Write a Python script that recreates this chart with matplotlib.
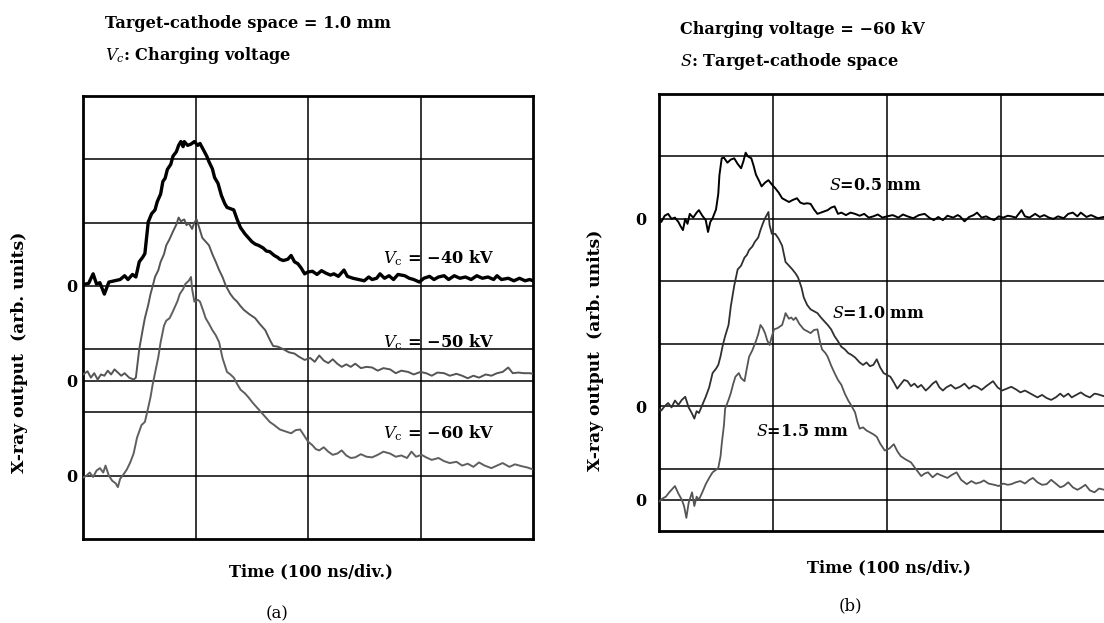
import numpy as np
import matplotlib
matplotlib.use("Agg")
import matplotlib.pyplot as plt

# ---- data (time in divisions, output in grid divisions) ----
# panel (a): target-cathode space 1.0 mm
vc40 = [(0.00, 4.02), (0.05, 4.04), (0.09, 4.19), (0.12, 4.03), (0.15, 4.05), (0.19, 3.87), (0.23, 4.06),
        (0.28, 4.08), (0.33, 4.10), (0.37, 4.16), (0.40, 4.10), (0.44, 4.18), (0.47, 4.14), (0.50, 4.38),
        (0.53, 4.45), (0.55, 4.51), (0.58, 5.01), (0.61, 5.14), (0.64, 5.20), (0.66, 5.33), (0.69, 5.45),
        (0.71, 5.65), (0.73, 5.70), (0.75, 5.84), (0.78, 5.92), (0.80, 6.05), (0.83, 6.12), (0.85, 6.22),
        (0.87, 6.28), (0.89, 6.20), (0.90, 6.28), (0.93, 6.22), (0.96, 6.24), (0.99, 6.28), (1.02, 6.22),
        (1.04, 6.25), (1.07, 6.15), (1.10, 6.05), (1.12, 5.96), (1.15, 5.85), (1.17, 5.71), (1.20, 5.62),
        (1.23, 5.43), (1.26, 5.30), (1.28, 5.24), (1.31, 5.22), (1.34, 5.20), (1.37, 5.05), (1.40, 4.92),
        (1.44, 4.82), (1.47, 4.76), (1.50, 4.70), (1.53, 4.66), (1.56, 4.64), (1.60, 4.60), (1.63, 4.55),
        (1.66, 4.54), (1.70, 4.48), (1.73, 4.45), (1.75, 4.42), (1.78, 4.40), (1.82, 4.42), (1.85, 4.48),
        (1.88, 4.38), (1.91, 4.35), (1.94, 4.28), (1.97, 4.19), (2.00, 4.22), (2.04, 4.23), (2.08, 4.18),
        (2.12, 4.24), (2.16, 4.20), (2.20, 4.17), (2.23, 4.19), (2.27, 4.15), (2.32, 4.25), (2.35, 4.15),
        (2.40, 4.12), (2.45, 4.10), (2.50, 4.08), (2.54, 4.14), (2.57, 4.10), (2.61, 4.12), (2.64, 4.19),
        (2.68, 4.12), (2.72, 4.16), (2.76, 4.10), (2.80, 4.18), (2.86, 4.16), (2.90, 4.12), (2.94, 4.10),
        (2.99, 4.06), (3.03, 4.12), (3.08, 4.15), (3.12, 4.10), (3.16, 4.14), (3.21, 4.16), (3.25, 4.10),
        (3.30, 4.16), (3.35, 4.12), (3.40, 4.14), (3.45, 4.10), (3.50, 4.16), (3.55, 4.12), (3.60, 4.14),
        (3.65, 4.10), (3.68, 4.16), (3.72, 4.10), (3.78, 4.12), (3.83, 4.08), (3.88, 4.12), (3.93, 4.08),
        (3.97, 4.10), (4.00, 4.08)]

vc50 = [(0.00, 2.60), (0.04, 2.65), (0.07, 2.55), (0.10, 2.62), (0.13, 2.52), (0.16, 2.60), (0.19, 2.58),
        (0.22, 2.66), (0.25, 2.60), (0.28, 2.68), (0.31, 2.63), (0.34, 2.58), (0.37, 2.62), (0.41, 2.55),
        (0.45, 2.52), (0.47, 2.55), (0.50, 3.00), (0.53, 3.30), (0.55, 3.49), (0.58, 3.70), (0.60, 3.87),
        (0.62, 4.00), (0.64, 4.14), (0.67, 4.25), (0.69, 4.38), (0.72, 4.50), (0.74, 4.64), (0.77, 4.74),
        (0.80, 4.86), (0.83, 4.97), (0.85, 5.08), (0.87, 5.02), (0.90, 5.05), (0.92, 4.96), (0.94, 4.99),
        (0.97, 4.90), (0.99, 5.00), (1.01, 5.05), (1.04, 4.88), (1.06, 4.76), (1.09, 4.70), (1.12, 4.64),
        (1.15, 4.50), (1.18, 4.38), (1.21, 4.25), (1.24, 4.14), (1.27, 4.00), (1.31, 3.87), (1.34, 3.80),
        (1.37, 3.75), (1.40, 3.68), (1.43, 3.62), (1.48, 3.55), (1.53, 3.49), (1.57, 3.40), (1.62, 3.30),
        (1.66, 3.15), (1.69, 3.05), (1.73, 3.04), (1.78, 3.00), (1.83, 2.95), (1.88, 2.93), (1.92, 2.88),
        (1.97, 2.83), (2.02, 2.86), (2.06, 2.80), (2.10, 2.90), (2.14, 2.82), (2.18, 2.78), (2.22, 2.84),
        (2.26, 2.77), (2.30, 2.72), (2.34, 2.76), (2.38, 2.72), (2.42, 2.77), (2.47, 2.70), (2.52, 2.72),
        (2.57, 2.71), (2.62, 2.66), (2.67, 2.70), (2.73, 2.68), (2.78, 2.62), (2.83, 2.66), (2.89, 2.64),
        (2.94, 2.60), (3.00, 2.64), (3.05, 2.62), (3.10, 2.58), (3.15, 2.63), (3.21, 2.62), (3.26, 2.58),
        (3.32, 2.61), (3.37, 2.58), (3.42, 2.54), (3.47, 2.58), (3.52, 2.55), (3.58, 2.60), (3.63, 2.58),
        (3.68, 2.62), (3.73, 2.64), (3.78, 2.71), (3.82, 2.62), (3.87, 2.63), (3.92, 2.62), (3.97, 2.62),
        (4.00, 2.61)]

vc60 = [(0.00, 0.97), (0.03, 1.00), (0.06, 1.05), (0.09, 0.98), (0.12, 1.08), (0.15, 1.12), (0.18, 1.05),
        (0.20, 1.16), (0.23, 1.00), (0.26, 0.92), (0.29, 0.88), (0.31, 0.82), (0.33, 0.95), (0.36, 1.02),
        (0.39, 1.10), (0.42, 1.21), (0.45, 1.35), (0.48, 1.60), (0.50, 1.70), (0.52, 1.80), (0.55, 1.85),
        (0.57, 2.00), (0.60, 2.24), (0.62, 2.45), (0.64, 2.62), (0.67, 2.88), (0.69, 3.11), (0.72, 3.37),
        (0.74, 3.45), (0.77, 3.49), (0.80, 3.60), (0.82, 3.68), (0.84, 3.76), (0.86, 3.87), (0.89, 3.95),
        (0.91, 4.03), (0.94, 4.08), (0.96, 4.14), (0.97, 3.95), (0.99, 3.75), (1.02, 3.78), (1.04, 3.75),
        (1.07, 3.60), (1.09, 3.49), (1.12, 3.40), (1.15, 3.30), (1.18, 3.22), (1.21, 3.11), (1.24, 2.86),
        (1.26, 2.75), (1.28, 2.64), (1.31, 2.60), (1.34, 2.55), (1.37, 2.45), (1.40, 2.36), (1.44, 2.30),
        (1.47, 2.24), (1.51, 2.15), (1.56, 2.05), (1.61, 1.95), (1.66, 1.85), (1.70, 1.80), (1.75, 1.73),
        (1.80, 1.70), (1.85, 1.67), (1.89, 1.72), (1.93, 1.73), (1.96, 1.65), (2.00, 1.54), (2.04, 1.48),
        (2.07, 1.42), (2.10, 1.40), (2.14, 1.45), (2.18, 1.38), (2.22, 1.33), (2.26, 1.35), (2.30, 1.40),
        (2.34, 1.32), (2.38, 1.28), (2.42, 1.29), (2.47, 1.34), (2.52, 1.30), (2.57, 1.29), (2.62, 1.33),
        (2.67, 1.38), (2.73, 1.35), (2.78, 1.30), (2.83, 1.32), (2.88, 1.28), (2.92, 1.38), (2.96, 1.30),
        (3.01, 1.33), (3.05, 1.29), (3.10, 1.25), (3.16, 1.28), (3.21, 1.23), (3.26, 1.20), (3.32, 1.22),
        (3.37, 1.16), (3.42, 1.19), (3.47, 1.14), (3.52, 1.21), (3.57, 1.16), (3.63, 1.12), (3.68, 1.16),
        (3.73, 1.20), (3.79, 1.14), (3.84, 1.18), (3.90, 1.15), (3.95, 1.13), (4.00, 1.10)]

# panel (b): charging voltage -60 kV
s05 = [(0.00, 4.98), (0.02, 4.95), (0.05, 5.05), (0.08, 5.08), (0.11, 5.00), (0.14, 5.02), (0.17, 4.95),
       (0.19, 4.88), (0.21, 4.82), (0.23, 5.00), (0.25, 4.92), (0.27, 5.08), (0.30, 5.02), (0.33, 5.10),
       (0.35, 5.14), (0.38, 5.05), (0.41, 4.98), (0.43, 4.79), (0.45, 4.95), (0.47, 5.01), (0.50, 5.15),
       (0.52, 5.40), (0.53, 5.70), (0.55, 5.97), (0.57, 5.98), (0.60, 5.90), (0.63, 5.95), (0.66, 5.97),
       (0.69, 5.88), (0.72, 5.81), (0.74, 5.92), (0.76, 6.06), (0.78, 6.00), (0.81, 5.97), (0.83, 5.85),
       (0.85, 5.71), (0.88, 5.60), (0.90, 5.52), (0.93, 5.58), (0.96, 5.62), (0.99, 5.55), (1.02, 5.49),
       (1.05, 5.42), (1.08, 5.33), (1.11, 5.30), (1.14, 5.27), (1.17, 5.30), (1.21, 5.33), (1.24, 5.26),
       (1.27, 5.24), (1.30, 5.25), (1.33, 5.24), (1.36, 5.15), (1.39, 5.08), (1.42, 5.10), (1.45, 5.12),
       (1.48, 5.14), (1.51, 5.18), (1.54, 5.20), (1.57, 5.08), (1.60, 5.10), (1.64, 5.06), (1.68, 5.10),
       (1.72, 5.08), (1.76, 5.05), (1.80, 5.08), (1.84, 5.02), (1.88, 5.04), (1.92, 5.07), (1.96, 5.02),
       (2.00, 5.04), (2.05, 5.06), (2.10, 5.02), (2.14, 5.07), (2.18, 5.04), (2.23, 5.01), (2.28, 5.06),
       (2.33, 5.08), (2.37, 5.02), (2.41, 4.98), (2.45, 5.03), (2.49, 4.98), (2.53, 5.05), (2.58, 5.02),
       (2.62, 5.06), (2.64, 5.04), (2.68, 4.96), (2.72, 5.03), (2.76, 5.06), (2.79, 5.10), (2.83, 5.02),
       (2.87, 5.04), (2.91, 5.00), (2.94, 4.98), (2.98, 5.04), (3.02, 5.02), (3.06, 5.05), (3.09, 5.04),
       (3.13, 5.02), (3.18, 5.14), (3.21, 5.04), (3.25, 5.02), (3.30, 5.08), (3.34, 5.03), (3.38, 5.06),
       (3.42, 5.02), (3.46, 5.00), (3.50, 5.04), (3.55, 5.01), (3.59, 5.08), (3.63, 5.10), (3.67, 5.04),
       (3.70, 5.10), (3.75, 5.03), (3.79, 5.06), (3.85, 5.01), (3.90, 5.03), (3.95, 5.02), (4.00, 5.03)]

s10 = [(0.00, 1.95), (0.02, 1.93), (0.05, 2.00), (0.08, 2.05), (0.11, 1.98), (0.14, 2.09), (0.17, 2.02),
       (0.20, 2.10), (0.23, 2.15), (0.26, 1.98), (0.29, 1.88), (0.31, 1.80), (0.33, 1.92), (0.35, 1.89),
       (0.38, 2.02), (0.41, 2.15), (0.44, 2.30), (0.47, 2.53), (0.50, 2.60), (0.52, 2.66), (0.54, 2.80),
       (0.56, 2.98), (0.58, 3.12), (0.61, 3.30), (0.63, 3.60), (0.66, 3.93), (0.69, 4.19), (0.72, 4.25),
       (0.75, 4.38), (0.77, 4.42), (0.79, 4.50), (0.82, 4.56), (0.84, 4.63), (0.87, 4.70), (0.89, 4.82),
       (0.91, 4.92), (0.93, 5.01), (0.96, 5.11), (0.97, 4.90), (0.99, 4.76), (1.02, 4.76), (1.05, 4.68),
       (1.08, 4.57), (1.10, 4.40), (1.11, 4.31), (1.14, 4.25), (1.17, 4.19), (1.20, 4.12), (1.22, 4.06),
       (1.25, 3.90), (1.27, 3.74), (1.30, 3.62), (1.33, 3.55), (1.36, 3.52), (1.39, 3.49), (1.42, 3.42),
       (1.45, 3.36), (1.48, 3.30), (1.51, 3.23), (1.54, 3.12), (1.57, 3.04), (1.60, 2.95), (1.63, 2.91),
       (1.66, 2.85), (1.69, 2.82), (1.72, 2.78), (1.76, 2.70), (1.79, 2.66), (1.82, 2.70), (1.85, 2.64),
       (1.88, 2.66), (1.91, 2.75), (1.94, 2.62), (1.97, 2.53), (2.00, 2.50), (2.03, 2.47), (2.06, 2.38),
       (2.09, 2.28), (2.12, 2.35), (2.15, 2.42), (2.18, 2.40), (2.21, 2.32), (2.24, 2.36), (2.27, 2.30),
       (2.30, 2.34), (2.34, 2.25), (2.37, 2.30), (2.40, 2.36), (2.43, 2.40), (2.46, 2.30), (2.49, 2.25),
       (2.52, 2.30), (2.56, 2.34), (2.60, 2.28), (2.64, 2.31), (2.68, 2.36), (2.72, 2.28), (2.76, 2.33),
       (2.79, 2.31), (2.83, 2.26), (2.87, 2.32), (2.90, 2.36), (2.93, 2.40), (2.97, 2.30), (3.01, 2.25),
       (3.05, 2.28), (3.09, 2.31), (3.13, 2.27), (3.17, 2.22), (3.21, 2.25), (3.24, 2.22), (3.28, 2.18),
       (3.32, 2.14), (3.36, 2.18), (3.40, 2.13), (3.44, 2.10), (3.48, 2.14), (3.52, 2.20), (3.55, 2.15),
       (3.59, 2.20), (3.62, 2.14), (3.66, 2.18), (3.70, 2.22), (3.74, 2.17), (3.78, 2.14), (3.82, 2.20),
       (3.85, 2.19), (3.90, 2.16), (3.95, 2.20), (4.00, 2.18)]

s15 = [(0.00, 0.47), (0.03, 0.52), (0.06, 0.55), (0.09, 0.62), (0.12, 0.68), (0.14, 0.72), (0.17, 0.60),
       (0.20, 0.50), (0.22, 0.40), (0.24, 0.21), (0.26, 0.45), (0.29, 0.62), (0.31, 0.40), (0.33, 0.55),
       (0.35, 0.50), (0.38, 0.62), (0.41, 0.75), (0.44, 0.85), (0.47, 0.94), (0.50, 0.98), (0.52, 1.01),
       (0.54, 1.20), (0.55, 1.39), (0.57, 1.70), (0.58, 1.96), (0.61, 2.10), (0.63, 2.21), (0.65, 2.35),
       (0.67, 2.47), (0.70, 2.53), (0.72, 2.45), (0.75, 2.40), (0.77, 2.60), (0.79, 2.79), (0.82, 2.90),
       (0.85, 3.04), (0.87, 3.15), (0.89, 3.30), (0.91, 3.25), (0.93, 3.17), (0.95, 3.05), (0.97, 2.98),
       (0.99, 3.12), (1.01, 3.23), (1.04, 3.25), (1.08, 3.30), (1.10, 3.42), (1.11, 3.49), (1.14, 3.40),
       (1.16, 3.42), (1.18, 3.38), (1.20, 3.42), (1.23, 3.32), (1.27, 3.23), (1.30, 3.20), (1.33, 3.17),
       (1.36, 3.22), (1.39, 3.23), (1.41, 3.05), (1.43, 2.91), (1.46, 2.85), (1.48, 2.79), (1.51, 2.65),
       (1.54, 2.53), (1.57, 2.42), (1.60, 2.34), (1.63, 2.20), (1.66, 2.09), (1.69, 2.00), (1.72, 1.90),
       (1.74, 1.75), (1.76, 1.64), (1.79, 1.66), (1.82, 1.61), (1.85, 1.58), (1.88, 1.55), (1.91, 1.51),
       (1.94, 1.40), (1.98, 1.29), (2.02, 1.32), (2.06, 1.39), (2.09, 1.28), (2.12, 1.20), (2.16, 1.15),
       (2.21, 1.10), (2.25, 1.00), (2.30, 0.88), (2.33, 0.92), (2.36, 0.94), (2.40, 0.86), (2.44, 0.92),
       (2.49, 0.88), (2.53, 0.85), (2.57, 0.90), (2.61, 0.94), (2.65, 0.82), (2.70, 0.75), (2.74, 0.80),
       (2.78, 0.76), (2.82, 0.78), (2.85, 0.81), (2.89, 0.76), (2.94, 0.74), (2.98, 0.72), (3.02, 0.76),
       (3.06, 0.74), (3.09, 0.75), (3.13, 0.78), (3.17, 0.80), (3.21, 0.76), (3.25, 0.82), (3.28, 0.85),
       (3.32, 0.78), (3.36, 0.74), (3.40, 0.75), (3.44, 0.82), (3.48, 0.76), (3.52, 0.70), (3.55, 0.72),
       (3.59, 0.78), (3.63, 0.70), (3.67, 0.66), (3.70, 0.69), (3.74, 0.74), (3.78, 0.65), (3.82, 0.62),
       (3.86, 0.68), (3.91, 0.66), (3.95, 0.62), (4.00, 0.64)]

zeros_a = [4.0, 2.5, 1.0]
zeros_b = [5.0, 2.0, 0.5]
labels_a = [r"$V_{\rm c}$ = −40 kV", r"$V_{\rm c}$ = −50 kV", r"$V_{\rm c}$ = −60 kV"]
labels_b = [r"$S$=0.5 mm", r"$S$=1.0 mm", r"$S$=1.5 mm"]

plt.rcParams["font.family"] = "DejaVu Serif"
plt.rcParams["mathtext.fontset"] = "dejavuserif"

W, H = 1104, 623
fig = plt.figure(figsize=(W / 100, H / 100), dpi=100)


def px(x, y):
    return x / W, 1 - y / H


def setup(ax, zeros, pad):
    ax.set_xlim(0, 4)
    ax.set_ylim(0, 7)
    ax.set_xticks([1, 2, 3])
    ax.set_xticklabels([])
    ax.set_yticks(zeros)
    ax.set_yticklabels(["0"] * len(zeros), fontsize=11.5, fontweight="bold")
    ax.set_yticks(range(1, 7), minor=True)
    ax.tick_params(which="both", length=0)
    ax.tick_params(axis="y", pad=pad)
    ax.grid(True, which="both", color="black", lw=1.1)
    for sp in ax.spines.values():
        sp.set_linewidth(2.0)


# (a)
ax_a = fig.add_axes([83 / W, 1 - 539 / H, 450 / W, 443 / H])
setup(ax_a, zeros_a, 4)
for tr, c, lw in [(vc40, "black", 2.4), (vc50, "#555555", 1.4), (vc60, "#5f5f5f", 1.4)]:
    t, v = zip(*tr)
    ax_a.plot(t, v, color=c, lw=lw, zorder=3)
for lab, yy in zip(labels_a, [4.44, 3.11, 1.67]):
    ax_a.text(2.67, yy, lab, fontsize=11.7, fontweight="bold", va="center", ha="left", zorder=1)

# (b)
ax_b = fig.add_axes([659 / W, 1 - 531 / H, 456 / W, 437 / H])
setup(ax_b, zeros_b, 9)
for tr, c, lw in [(s05, "black", 1.4), (s10, "#303030", 1.3), (s15, "#555555", 1.3)]:
    t, v = zip(*tr)
    ax_b.plot(t, v, color=c, lw=lw, zorder=3)
for lab, xx, yy in zip(labels_b, [1.49, 1.52, 0.85], [5.54, 3.48, 1.60]):
    ax_b.text(xx, yy, lab, fontsize=11.5, fontweight="bold", va="center", ha="left", zorder=1)

# texts around the panels
bold = dict(fontsize=11.6, fontweight="bold")
fig.text(*px(105, 24), "Target-cathode space = 1.0 mm", va="center", **bold)
fig.text(*px(105, 56), r"$V_c$: Charging voltage", va="center", **bold)
fig.text(*px(680, 30), "Charging voltage = −60 kV", va="center", **bold)
fig.text(*px(680, 62), r"$S$: Target-cathode space", va="center", **bold)

for xx, yy in [(20, 352), (596, 350)]:
    fig.text(*px(xx, yy), "X-ray output  (arb. units)", rotation=90, ha="center", va="center",
             fontsize=12.3, fontweight="bold")
fig.text(*px(311, 572), "Time (100 ns/div.)", ha="center", va="center", fontsize=11.7, fontweight="bold")
fig.text(*px(889, 568), "Time (100 ns/div.)", ha="center", va="center", fontsize=11.7, fontweight="bold")
fig.text(*px(277, 614), "(a)", ha="center", va="center", fontsize=12)
fig.text(*px(850, 606), "(b)", ha="center", va="center", fontsize=12)

fig.savefig("out.png", dpi=100)
